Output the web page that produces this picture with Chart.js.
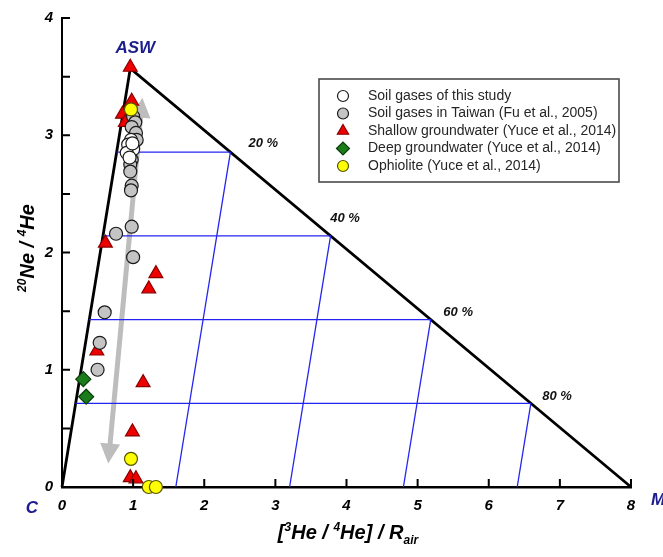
<!DOCTYPE html>
<html>
<head>
<meta charset="utf-8">
<title>He-Ne mixing diagram</title>
<script src="https://cdn.jsdelivr.net/npm/chart.js@4.4.1/dist/chart.umd.min.js"></script>
<style>
  html, body { margin: 0; padding: 0; background: #ffffff; }
  canvas { display: block; }
</style>
</head>
<body>
<canvas id="heNeChart" width="663" height="557"></canvas>
<script>
// end-members: crust (C), air-saturated water (ASW), mantle (M)
const endC = [0, 0];
const endASW = [0.96, 3.57];
const endM = [8, 0];
const mixSteps = [0.2, 0.4, 0.6, 0.8];
const mixLabels = ['20 %', '40 %', '60 %', '80 %'];
const mixLabelAt = [[2.83, 2.93], [3.98, 2.29], [5.57, 1.49], [6.96, 0.77]];

const xTickValues = [0, 1, 2, 3, 4, 5, 6, 7, 8];
const yTickValues = [0, 1, 2, 3, 4];

// gray trend arrow (both heads)
const arrowTop = [1.13, 3.32];
const arrowBottom = [0.65, 0.2];

const soilThisStudy = [[0.97, 2.96], [0.93, 2.92], [1.00, 2.88], [0.91, 2.85], [0.95, 2.81], [0.99, 2.93]];
const soilTaiwan = [[1.00, 3.16], [1.03, 3.11], [0.98, 3.07], [1.04, 3.02], [1.05, 2.96], [0.98, 2.79],
  [0.96, 2.75], [0.96, 2.69], [0.98, 2.57], [0.97, 2.53], [0.98, 2.22], [0.76, 2.16], [1.00, 1.96],
  [0.60, 1.49], [0.53, 1.23], [0.50, 1.00]];
const shallowGW = [[0.96, 3.58], [0.98, 3.29], [0.85, 3.18], [0.89, 3.11], [0.61, 2.08], [1.32, 1.82],
  [1.22, 1.69], [0.49, 1.16], [1.14, 0.89], [0.99, 0.47], [0.96, 0.08], [1.04, 0.07]];
const deepGW = [[0.30, 0.92], [0.34, 0.77]];
const ophiolite = [[0.97, 3.22], [0.97, 0.24], [1.22, 0.0], [1.32, 0.0]];

const FONT = '"Liberation Sans", Arial, sans-serif';
const NAVY = '#1c1c8c';

function pts(list) {
    return list.map(p => ({ x: p[0], y: p[1] }));
}

function mix(a, b, f) {
    return { x: a[0] + (b[0] - a[0]) * f, y: a[1] + (b[1] - a[1]) * f };
}

function lineSet(data, color, width) {
    return {
        label: '', data: data, showLine: true, pointRadius: 0, pointHoverRadius: 0,
        borderColor: color, borderWidth: width, fill: false, clip: false, order: 20
    };
}

function pointSet(label, list, style, fill, edge, radius, order) {
    return {
        label: label, data: pts(list), showLine: false, pointStyle: style,
        backgroundColor: fill, borderColor: edge, borderWidth: 1.2,
        pointRadius: radius, pointHoverRadius: radius, clip: false, order: order
    };
}

const datasets = [];

// mixing grid (blue)
mixSteps.forEach(f => {
    const hyp = mix(endASW, endM, f);
    const left = mix(endASW, endC, f);
    datasets.push(lineSet([left, hyp], '#2424f0', 1.3));
    datasets.push(lineSet([{ x: endM[0] * f, y: 0 }, hyp], '#2424f0', 1.3));
});

// triangle outline
datasets.push(lineSet(pts([endC, endASW, endM]), '#000000', 2.8));

datasets.push(pointSet('Soil gases of this study', soilThisStudy, 'circle', '#ffffff', '#1a1a1a', 6.5, 1));
datasets.push(pointSet('Soil gases in Taiwan (Fu et al., 2005)', soilTaiwan, 'circle', '#c4c4c4', '#1a1a1a', 6.5, 2));
datasets.push(pointSet('Shallow groundwater (Yuce et al., 2014)', shallowGW, 'triangle', '#ee0000', '#8a0000', 8, 3));
datasets.push(pointSet('Deep groundwater (Yuce et al., 2014)', deepGW, 'rectRot', '#1a7d1a', '#0b3d0b', 7.5, 4));
datasets.push(pointSet('Ophiolite (Yuce et al., 2014)', ophiolite, 'circle', '#ffff00', '#555500', 6.5, 0));

function drawRich(ctx, parts, x, y, size) {
    // parts: [text, shift] shift 1 = superscript, -1 = subscript
    const fontFor = s => 'italic bold ' + (s === 0 ? size : Math.round(size * 0.62)) + 'px ' + FONT;
    let total = 0;
    parts.forEach(p => { ctx.font = fontFor(p[1]); total += ctx.measureText(p[0]).width; });
    let cx = x - total / 2;
    ctx.textAlign = 'left';
    ctx.textBaseline = 'alphabetic';
    parts.forEach(p => {
        ctx.font = fontFor(p[1]);
        const dy = p[1] === 1 ? -size * 0.42 : (p[1] === -1 ? size * 0.25 : 0);
        ctx.fillText(p[0], cx, y + dy);
        cx += ctx.measureText(p[0]).width;
    });
}

const arrowPlugin = {
    id: 'trendArrow',
    beforeDatasetsDraw(chart) {
        const { ctx, scales: { x, y } } = chart;
        const x1 = x.getPixelForValue(arrowTop[0]), y1 = y.getPixelForValue(arrowTop[1]);
        const x2 = x.getPixelForValue(arrowBottom[0]), y2 = y.getPixelForValue(arrowBottom[1]);
        const ang = Math.atan2(y2 - y1, x2 - x1);
        const head = 20, half = 10;
        ctx.save();
        ctx.strokeStyle = '#bdbdbd';
        ctx.fillStyle = '#bdbdbd';
        ctx.lineWidth = 5;
        ctx.beginPath();
        ctx.moveTo(x1 + Math.cos(ang) * head * 0.8, y1 + Math.sin(ang) * head * 0.8);
        ctx.lineTo(x2 - Math.cos(ang) * head * 0.8, y2 - Math.sin(ang) * head * 0.8);
        ctx.stroke();
        [[x1, y1, ang + Math.PI], [x2, y2, ang]].forEach(h => {
            const [hx, hy, a] = h;
            const bx = hx - Math.cos(a) * head, by = hy - Math.sin(a) * head;
            ctx.beginPath();
            ctx.moveTo(hx, hy);
            ctx.lineTo(bx + Math.sin(a) * half, by - Math.cos(a) * half);
            ctx.lineTo(bx - Math.sin(a) * half, by + Math.cos(a) * half);
            ctx.closePath();
            ctx.fill();
        });
        ctx.restore();
    }
};

const decorPlugin = {
    id: 'decor',
    afterDraw(chart) {
        const { ctx, scales: { x, y }, chartArea } = chart;
        ctx.save();

        // inward ticks
        ctx.strokeStyle = '#000';
        ctx.lineWidth = 2;
        ctx.beginPath();
        for (let v = 0; v <= 4; v += 0.5) {
            const py = y.getPixelForValue(v);
            ctx.moveTo(chartArea.left, py);
            ctx.lineTo(chartArea.left + 8, py);
        }
        xTickValues.forEach(v => {
            const px = x.getPixelForValue(v);
            ctx.moveTo(px, chartArea.bottom);
            ctx.lineTo(px, chartArea.bottom - 8);
        });
        ctx.stroke();

        // percent labels
        ctx.fillStyle = '#111';
        ctx.font = 'italic bold 13px ' + FONT;
        ctx.textAlign = 'center';
        ctx.textBaseline = 'middle';
        mixLabels.forEach((t, i) => {
            ctx.fillText(t, x.getPixelForValue(mixLabelAt[i][0]), y.getPixelForValue(mixLabelAt[i][1]));
        });

        // end-member names
        ctx.fillStyle = NAVY;
        ctx.font = 'italic bold 17px ' + FONT;
        ctx.fillText('ASW', x.getPixelForValue(endASW[0]) + 5, y.getPixelForValue(endASW[1]) - 20);
        ctx.fillText('C', x.getPixelForValue(endC[0]) - 30, y.getPixelForValue(endC[1]) + 21);
        ctx.fillText('M', x.getPixelForValue(endM[0]) + 27, y.getPixelForValue(endM[1]) + 13);

        // axis titles
        ctx.fillStyle = '#000';
        drawRich(ctx, [['[', 0], ['3', 1], ['He / ', 0], ['4', 1], ['He] / R', 0], ['air', -1]], 348, 539, 20);
        ctx.save();
        ctx.translate(34, 248);
        ctx.rotate(-Math.PI / 2);
        drawRich(ctx, [['20', 1], ['Ne / ', 0], ['4', 1], ['He', 0]], 0, 0, 20);
        ctx.restore();

        // legend box
        const bx = 319, by = 79, bw = 300, bh = 103;
        ctx.fillStyle = '#ffffff';
        ctx.fillRect(bx, by, bw, bh);
        ctx.strokeStyle = '#4a4a4a';
        ctx.lineWidth = 1.6;
        ctx.strokeRect(bx, by, bw, bh);
        const entries = chart.data.datasets.filter(d => d.label);
        entries.forEach((d, i) => {
            const ry = by + 17 + i * 17.5;
            ctx.fillStyle = d.backgroundColor;
            ctx.strokeStyle = d.borderColor;
            ctx.lineWidth = 1.2;
            Chart.helpers.drawPoint(ctx, {
                pointStyle: d.pointStyle, rotation: 0,
                radius: d.pointStyle === 'circle' ? 5.5 : 6.5, borderWidth: 1.2
            }, 343, ry);
            ctx.fillStyle = '#262626';
            ctx.font = '14px ' + FONT;
            ctx.textAlign = 'left';
            ctx.textBaseline = 'middle';
            ctx.fillText(d.label, 368, ry);
        });
        ctx.restore();
    }
};

const tickFont = { family: FONT, size: 15, style: 'italic', weight: 'bold' };

new Chart(document.getElementById('heNeChart'), {
    type: 'scatter',
    data: { datasets: datasets },
    options: {
        responsive: false,
        animation: false,
        devicePixelRatio: 1,
        layout: { padding: { top: 18, right: 32, left: 0, bottom: 0 } },
        plugins: { legend: { display: false }, tooltip: { enabled: false } },
        scales: {
            x: {
                type: 'linear', min: 0, max: 8,
                afterFit: s => { s.height = 70; },
                afterBuildTicks: s => { s.ticks = xTickValues.map(v => ({ value: v })); },
                ticks: { font: tickFont, color: '#000', padding: 10, maxRotation: 0, autoSkip: false },
                grid: { display: false, drawTicks: false },
                border: { display: true, color: '#000', width: 2.5 }
            },
            y: {
                type: 'linear', min: 0, max: 4,
                afterFit: s => { s.width = 62; },
                afterBuildTicks: s => { s.ticks = yTickValues.map(v => ({ value: v })); },
                ticks: { font: tickFont, color: '#000', padding: 9 },
                grid: { display: false, drawTicks: false },
                border: { display: true, color: '#000', width: 2 }
            }
        }
    },
    plugins: [arrowPlugin, decorPlugin]
});
</script>
</body>
</html>
